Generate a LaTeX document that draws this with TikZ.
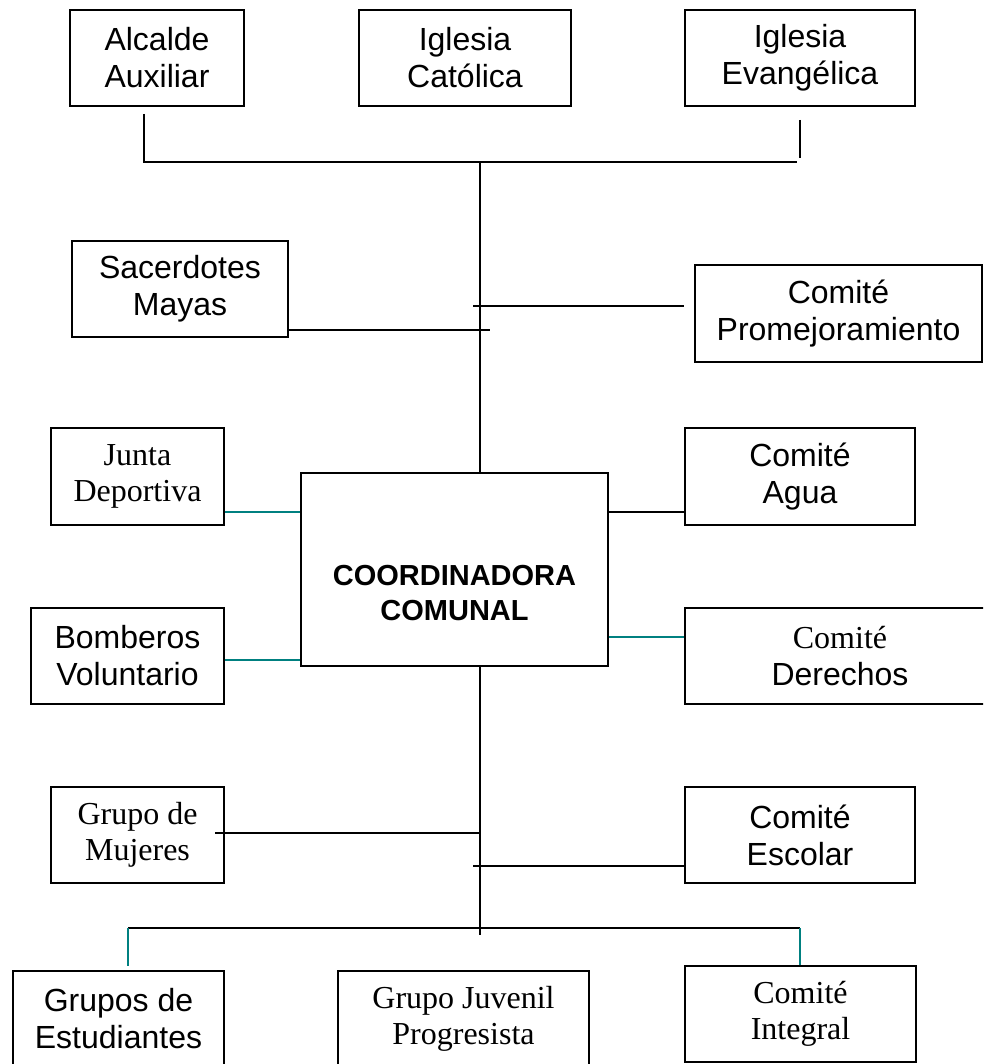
\documentclass[tikz,border=0pt]{standalone}
\usepackage{fontspec}
\setmainfont{Liberation Serif}
\setsansfont{Liberation Sans}
\definecolor{tealline}{RGB}{0,128,128}
\begin{document}
\begin{tikzpicture}[x=1pt,y=-1pt,
  box/.style={draw=black, line width=1.8pt, inner sep=0pt, align=center, fill=white},
  sf/.style={font=\sffamily\fontsize{32}{37}\selectfont},
  rm/.style={font=\rmfamily\fontsize{32}{36}\selectfont},
  conn/.style={draw=black, line width=1.6pt},
  tconn/.style={draw=tealline, line width=1.6pt}]
\useasboundingbox (0,0) rectangle (983,1064);
\fill[white] (0,0) rectangle (983,1064);
\clip (0,0) rectangle (983,1064);

% boxes
\node[box,sf,minimum width=174pt,minimum height=96pt] (alc) at (157,58) {Alcalde\\Auxiliar};
\node[box,sf,minimum width=212pt,minimum height=96pt] (cat) at (465,58) {Iglesia\\Católica};
\node[box,sf,minimum width=230pt,minimum height=96pt] (eva) at (800,58) {Iglesia\\Evangélica};
\node[box,sf,minimum width=216pt,minimum height=96pt] (sac) at (180,289) {Sacerdotes\\Mayas};
\node[box,sf,minimum width=287pt,minimum height=97pt] (pro) at (838.5,313.5) {Comité\\Promejoramiento};
\node[box,rm,minimum width=173pt,minimum height=97pt] (jun) at (137.5,476.5) {Junta\\Deportiva};
\node[box,sf,minimum width=230pt,minimum height=97pt] (agu) at (800,476.5) {Comité\\Agua};
\node[box,minimum width=307pt,minimum height=193pt] (coo) at (454.5,569.5) {};
\node[align=center,font=\sffamily\bfseries\fontsize{29}{35}\selectfont] (cootxt) at ([yshift=-24pt]coo.center) {COORDINADORA\\COMUNAL};
\node[box,sf,minimum width=193pt,minimum height=96pt] (bom) at (127.5,656) {Bomberos\\Voluntario};
\node[box,sf,minimum width=310pt,minimum height=96pt] (der) at (840,656) {{\rmfamily Comité}\\Derechos};
\node[box,rm,minimum width=173pt,minimum height=96pt] (muj) at (137.5,835) {Grupo de\\Mujeres};
\node[box,sf,minimum width=230pt,minimum height=96pt] (esc) at (800,835) {Comité\\Escolar};
\node[box,sf,minimum width=211pt,minimum height=96pt] (est) at (118.5,1019) {Grupos de\\Estudiantes};
\node[box,rm,minimum width=251pt,minimum height=96pt] (juv) at (463.5,1019) {Grupo Juvenil\\Progresista};
\node[box,rm,minimum width=231pt,minimum height=96pt] (int) at (800.5,1014) {Comité\\Integral};

% connectors
\coordinate (top) at (480,162);
\coordinate (hl) at (144,162);
\coordinate (hr) at (797,162);
\draw[conn] (alc.south -| hl) ++(0,7) -- (hl) -- (hr);
\draw[conn] ([yshift=-13pt]eva.south) -- ++(0,38);
\draw[conn] (top) -- (coo.north -| top);

\coordinate (p1) at (473,306);
\draw[conn] (p1) -- ([xshift=-10pt]pro.west |- p1);
\draw[conn] ([yshift=8pt]sac.south east) -- ++(201,0);

\draw[tconn] (jun.east |- 0,512) -- (coo.west |- 0,512);
\draw[conn] (coo.east |- 0,512) -- (agu.west |- 0,512);
\draw[tconn] (bom.east |- 0,660) -- (coo.west |- 0,660);
\draw[tconn] (coo.east |- 0,637) -- (der.west |- 0,637);

\coordinate (bot) at (480,935);
\draw[conn] (coo.south -| top) -- (bot);
\coordinate (m1) at (215,833);
\draw[conn] (m1) -- (m1 -| top);
\coordinate (e1) at (473,866);
\draw[conn] (e1) -- (esc.west |- e1);

\coordinate (bl) at (128,928);
\coordinate (br) at (800,928);
\draw[conn] (bl) -- (br);
\draw[tconn] (bl) -- ([yshift=4pt]est.north -| bl);
\draw[tconn] (br) -- (int.north -| br);
\end{tikzpicture}
\end{document}
